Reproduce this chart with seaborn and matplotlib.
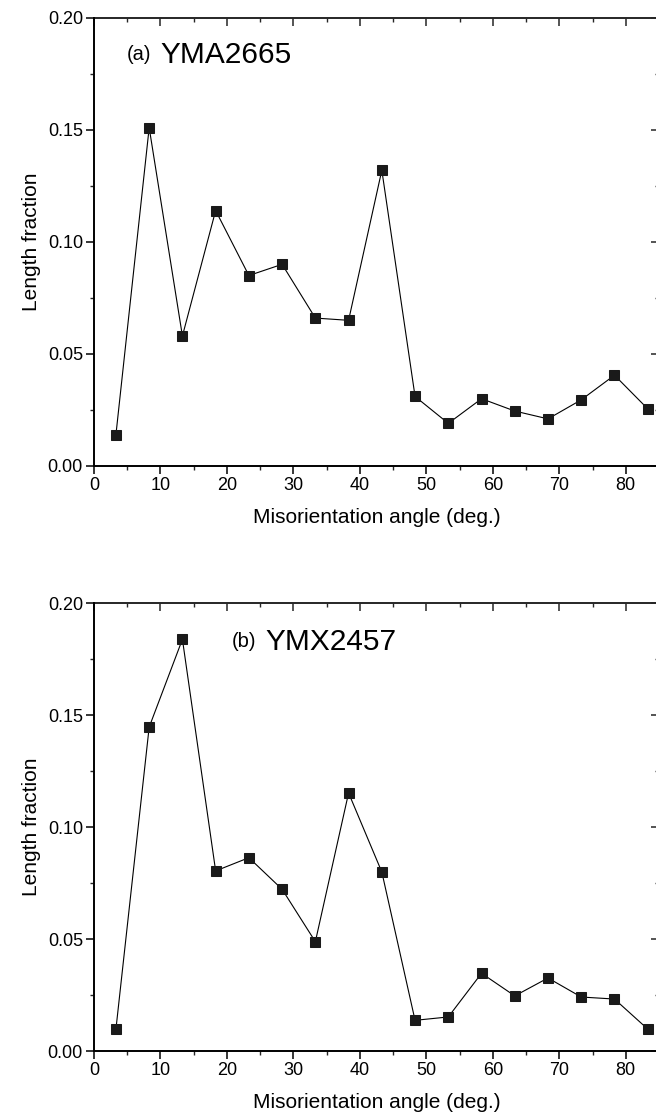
import numpy as np
import pandas as pd
import matplotlib
matplotlib.use("Agg")
import matplotlib.pyplot as plt
from matplotlib.ticker import MultipleLocator
import seaborn as sns

# bin centres (deg) and length fractions
angle = [3.3, 8.3, 13.3, 18.3, 23.3, 28.3, 33.3, 38.3, 43.3,
         48.3, 53.3, 58.3, 63.3, 68.3, 73.3, 78.3, 83.3]
frac_a = [0.014, 0.151, 0.058, 0.114, 0.085, 0.090, 0.066, 0.065, 0.132,
          0.031, 0.019, 0.030, 0.0245, 0.021, 0.0295, 0.0405, 0.0255]
frac_b = [0.0098, 0.1446, 0.1838, 0.0804, 0.0863, 0.0722, 0.0488, 0.1152, 0.0799,
          0.0137, 0.0152, 0.0347, 0.0246, 0.0326, 0.0241, 0.0232, 0.0098]
panel_tags = ["(a)", "(b)"]
sample_names = ["YMA2665", "YMX2457"]

sns.set_theme(style="ticks")
plt.rcParams['font.family'] = ['Liberation Sans', 'DejaVu Sans']
plt.rcParams['text.color'] = 'black'
plt.rcParams['axes.labelcolor'] = 'black'

fig = plt.figure(figsize=(6.56, 11.2), dpi=100)
ax_a = fig.add_axes([0.1433, 0.584, 0.8613, 0.400])
ax_b = fig.add_axes([0.1433, 0.0616, 0.8613, 0.400])

# where the panel labels go (data coords)
tag_pos = [(4.9, 0.1835), (20.7, 0.1828)]
name_pos = [(10.0, 0.1835), (25.8, 0.1828)]

for i, (ax, frac) in enumerate([(ax_a, frac_a), (ax_b, frac_b)]):
    df = pd.DataFrame({"angle": angle, "frac": frac})
    sns.lineplot(data=df, x="angle", y="frac", ax=ax, color="black",
                 linewidth=0.8, marker="s", markersize=7.5,
                 markeredgecolor="#1a1a1a", markerfacecolor="#1a1a1a")
    ax.set_xlim(0, 85)
    ax.set_ylim(0, 0.20)
    ax.xaxis.set_major_locator(MultipleLocator(10))
    ax.xaxis.set_minor_locator(MultipleLocator(5))
    ax.yaxis.set_major_locator(MultipleLocator(0.05))
    ax.yaxis.set_minor_locator(MultipleLocator(0.025))
    ax.yaxis.set_major_formatter(plt.FormatStrFormatter("%.2f"))
    ax.tick_params(which="major", direction="out", length=6, width=1.1,
                   labelsize=13, colors="black", pad=2)
    ax.tick_params(which="minor", direction="out", length=3, width=1.0)
    for sp in ax.spines.values():
        sp.set_linewidth(1.4)
        sp.set_color("black")
    ax.spines["top"].set_visible(False)
    ax.spines["right"].set_visible(False)

    # mirrored axes with inward ticks, no labels
    top = ax.secondary_xaxis("top")
    top.xaxis.set_major_locator(MultipleLocator(10))
    top.xaxis.set_minor_locator(MultipleLocator(5))
    top.tick_params(which="major", direction="in", length=6, width=1.1, labeltop=False)
    top.tick_params(which="minor", direction="in", length=3, width=1.0)
    top.spines["top"].set_linewidth(1.4)
    right = ax.secondary_yaxis("right")
    right.yaxis.set_major_locator(MultipleLocator(0.05))
    right.yaxis.set_minor_locator(MultipleLocator(0.025))
    right.tick_params(which="major", direction="in", length=6, width=1.1, labelright=False)
    right.tick_params(which="minor", direction="in", length=3, width=1.0)
    right.spines["right"].set_linewidth(1.4)

    ax.set_xlabel("Misorientation angle (deg.)", fontsize=15, labelpad=10)
    ax.set_ylabel("Length fraction", fontsize=15, labelpad=5)

    ax.text(tag_pos[i][0], tag_pos[i][1], panel_tags[i], fontsize=14.5,
            va="center", ha="left")
    ax.text(name_pos[i][0], name_pos[i][1], sample_names[i], fontsize=21.5,
            va="center", ha="left")

fig.savefig("out.png", dpi=100)
